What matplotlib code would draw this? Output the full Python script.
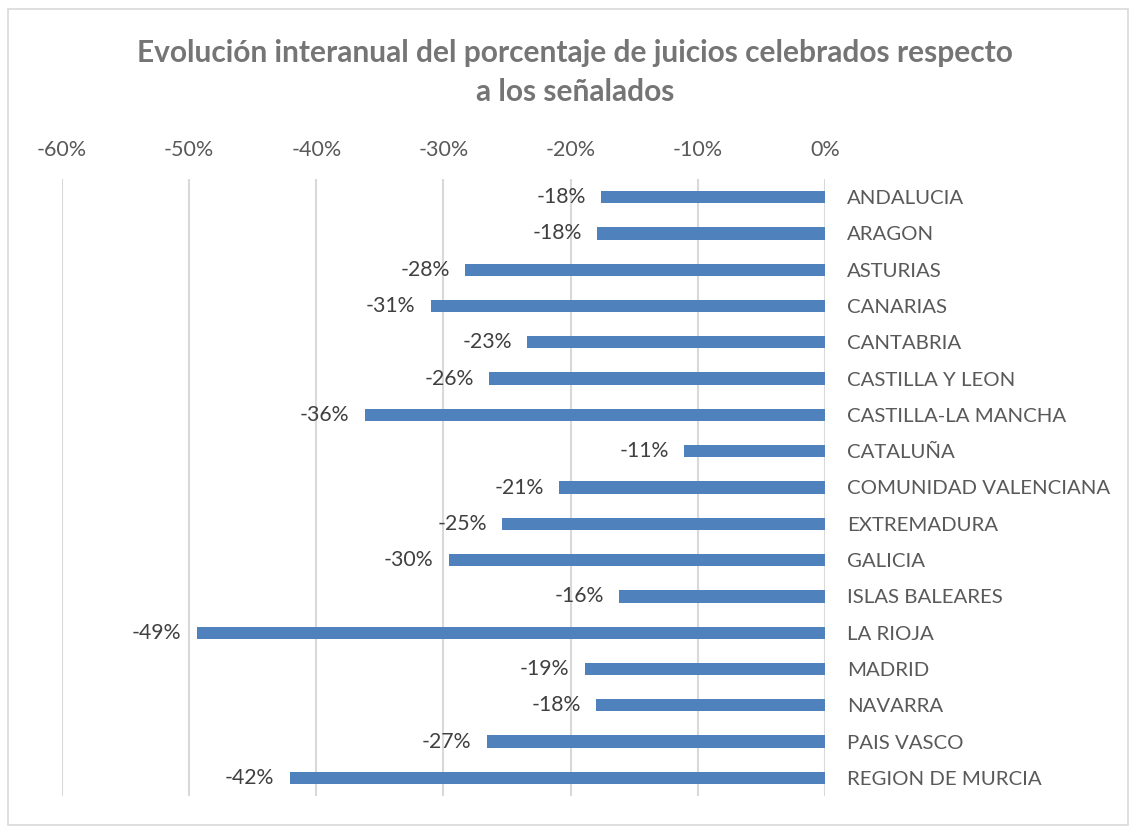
import matplotlib
matplotlib.use("Agg")
import matplotlib.pyplot as plt
from matplotlib.patches import Rectangle
from matplotlib.ticker import FuncFormatter

regiones = ["ANDALUCIA", "ARAGON", "ASTURIAS", "CANARIAS", "CANTABRIA",
            "CASTILLA Y LEON", "CASTILLA-LA MANCHA", "CATALUÑA",
            "COMUNIDAD VALENCIANA", "EXTREMADURA", "GALICIA", "ISLAS BALEARES",
            "LA RIOJA", "MADRID", "NAVARRA", "PAIS VASCO", "REGION DE MURCIA"]
variacion = [-0.176, -0.179, -0.283, -0.310, -0.234, -0.264, -0.362, -0.111,
             -0.209, -0.254, -0.296, -0.162, -0.494, -0.189, -0.180, -0.266,
             -0.421]
ticks = [-0.6, -0.5, -0.4, -0.3, -0.2, -0.1, 0.0]

plt.rcParams['font.family'] = ['Lato', 'DejaVu Sans']

fig = plt.figure(figsize=(11.36, 8.33), dpi=100)
fig.patches.append(Rectangle((8/1136, 8/833), 1 - 16/1136, 1 - 17/833,
                             transform=fig.transFigure, fill=False,
                             edgecolor='#d9d9d9', linewidth=1.2))

ax = fig.add_axes([62/1136, 37/833, 763/1136, 617/833])
y = list(range(len(regiones)))
bars = ax.barh(y, variacion, height=0.34, color='#4f81bd', zorder=3)
ax.bar_label(bars, labels=["%d%%" % round(v * 100) for v in variacion],
             padding=11, fontsize=15.3, color='#404040')

ax.set_xlim(-0.6, 0)
ax.set_ylim(len(regiones) - 0.5, -0.5)
ax.set_xticks(ticks)
ax.xaxis.set_major_formatter(FuncFormatter(lambda v, p: "%d%%" % round(v * 100)))
ax.xaxis.tick_top()
ax.tick_params(axis='x', length=0, pad=14, labelsize=15.5, labelcolor='#595959')
ax.grid(axis='x', color='#d9d9d9', linewidth=1.5, zorder=0)

ax.set_yticks(y)
ax.set_yticklabels(regiones)
ax.yaxis.tick_right()
ax.tick_params(axis='y', length=0, pad=16, labelsize=14.7, labelcolor='#595959')

for s in ax.spines.values():
    s.set_visible(False)

fig.text(0.506, 0.953, "Evolución interanual del porcentaje de juicios celebrados respecto\na los señalados",
         ha='center', va='top', fontsize=21.5, fontweight='bold', color='#757575',
         linespacing=1.45)

fig.savefig("out.png", dpi=100)
